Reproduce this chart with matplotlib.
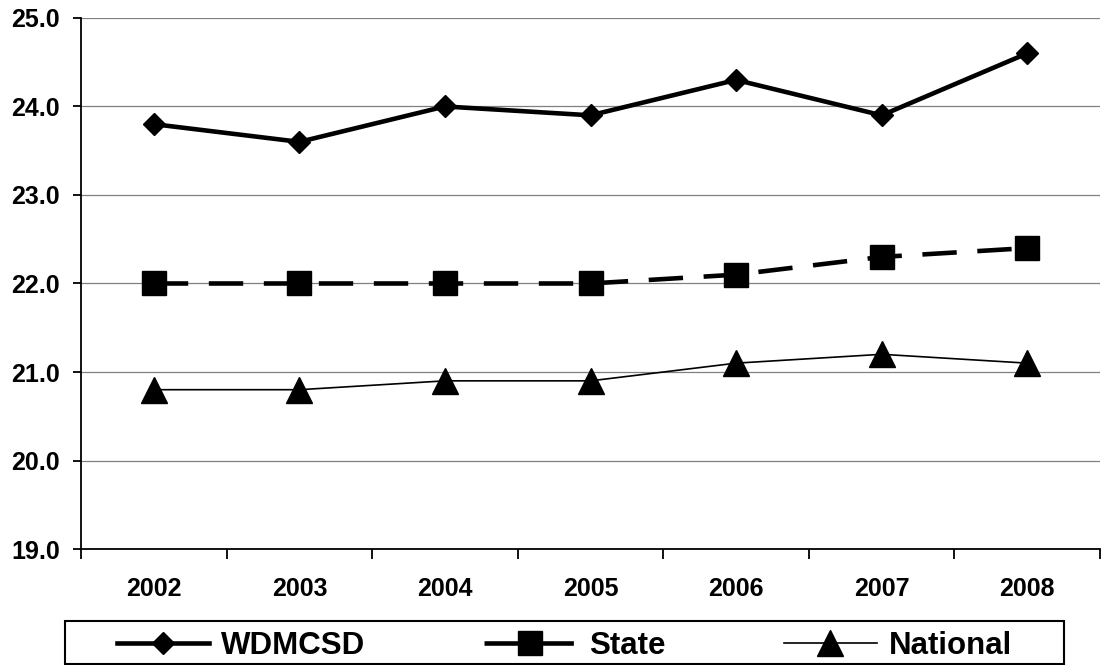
import matplotlib
matplotlib.use("Agg")
import matplotlib.pyplot as plt
from matplotlib.ticker import FixedLocator
from matplotlib.patches import Rectangle

years = ["2002", "2003", "2004", "2005", "2006", "2007", "2008"]
wdmcsd = [23.8, 23.6, 24.0, 23.9, 24.3, 23.9, 24.6]
state = [22.0, 22.0, 22.0, 22.0, 22.1, 22.3, 22.4]
national = [20.8, 20.8, 20.9, 20.9, 21.1, 21.2, 21.1]
yticks = [19, 20, 21, 22, 23, 24, 25]

plt.rcParams['font.family'] = ['Liberation Sans', 'DejaVu Sans']
plt.rcParams['font.weight'] = 'bold'

fig = plt.figure(figsize=(11.04, 6.65), dpi=100)
ax = fig.add_axes([0.0734, 0.1744, 0.9230, 0.7986])

x = list(range(len(years)))
ax.plot(x, wdmcsd, color='black', lw=3.3, marker='D', markersize=10.7, label='WDMCSD')
ax.plot(x, state, color='black', lw=3.3, marker='s', markersize=17,
        dashes=(7.5, 4.5), label='State')
ax.plot(x, national, color='black', lw=1.2, marker='^', markersize=19, label='National')

ax.set_xlim(-0.5, len(years) - 0.5)
ax.set_ylim(19, 25)
ax.set_yticks(yticks)
ax.set_yticklabels(['%.1f' % v for v in yticks])
ax.set_xticks(x)
ax.set_xticklabels(years)
ax.xaxis.set_minor_locator(FixedLocator([i - 0.5 for i in range(len(years) + 1)]))

ax.grid(axis='y', color='#808080', lw=0.9)
ax.set_axisbelow(True)
for s in ['top', 'right']:
    ax.spines[s].set_visible(False)
for s in ['left', 'bottom']:
    ax.spines[s].set_color('black')
    ax.spines[s].set_linewidth(1.3)

ax.tick_params(axis='y', labelsize=18, length=6, width=1.3, pad=9)
ax.tick_params(axis='x', which='major', labelsize=18, length=0, pad=20)
ax.tick_params(axis='x', which='minor', length=7, width=1.3)

# legend box drawn separately so the entries sit centred like the original
box = Rectangle((65 / 1104, 1 / 665), 999 / 1104, 43 / 665, transform=fig.transFigure,
                fill=False, edgecolor='black', lw=1.5)
fig.patches.append(box)
leg = fig.legend(loc='center', bbox_to_anchor=(0.5113, 0.029), ncol=3, fontsize=22.5,
                 frameon=False, handlelength=2.95, handletextpad=0.4,
                 columnspacing=3.8, borderaxespad=0, borderpad=0)

fig.savefig('out.png', dpi=100)
